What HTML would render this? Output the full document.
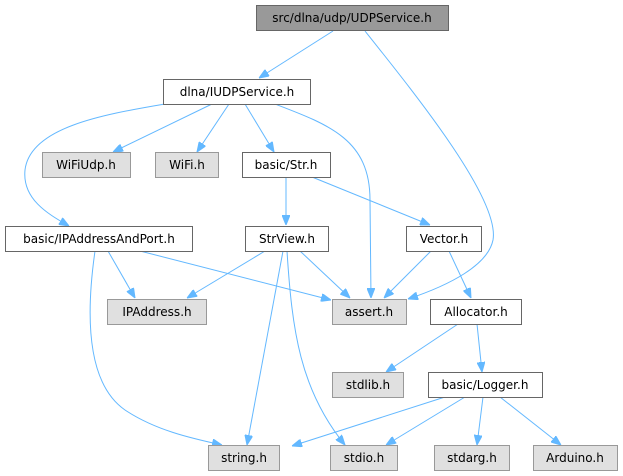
<!DOCTYPE html>
<html><head><meta charset="utf-8"><style>
html,body{margin:0;padding:0;background:#fff;}
svg{display:block;}
text{font-family:"DejaVu Sans","Liberation Sans",sans-serif;font-size:12px;fill:#000;}
</style></head><body>
<svg width="623" height="476" viewBox="0 0 623 476" xmlns="http://www.w3.org/2000/svg">
<defs>
<marker id="a" viewBox="0 0 10 8" refX="10" refY="4" markerWidth="10" markerHeight="8" markerUnits="userSpaceOnUse" orient="auto">
<path d="M0,0 L10,4 L0,8 z" fill="#63b8ff" stroke="#63b8ff"/>
</marker>
</defs>
<g fill="none" stroke="#63b8ff" stroke-width="1" marker-end="url(#a)">
<path d="M333,31 L259,78"/>
<path d="M365,31 C420,100 500,200 493,240 C488,265 450,285 408,299"/>
<path d="M165,104 C100,115 30,128 25,170 C22,200 50,215 69,226"/>
<path d="M212,104 L113,152"/>
<path d="M229,104 L197,152"/>
<path d="M245,104 L274,152"/>
<path d="M275,104 C330,125 370,140 370,200 L371,298"/>
<path d="M286,177 L286,225"/>
<path d="M312,177 L430,225"/>
<path d="M95,251 C88,300 82,380 125,410 C155,430 190,438 222,445"/>
<path d="M108,251 L135,298"/>
<path d="M140,251 L331,300"/>
<path d="M265,251 L187,298"/>
<path d="M283,251 L247,445"/>
<path d="M287,251 C292,330 300,390 345,445"/>
<path d="M300,251 L350,298"/>
<path d="M431,251 L384,298"/>
<path d="M449,251 L471,298"/>
<path d="M458,324 L386,372"/>
<path d="M477,324 L482,372"/>
<path d="M445,397 L292,446"/>
<path d="M465,397 L386,445"/>
<path d="M483,397 L477,445"/>
<path d="M500,397 L561,445"/>
</g>
<g stroke-width="1">
<rect x="256.5" y="5.5" width="192" height="25" fill="#999" stroke="#666"/>
<rect x="163.5" y="79.5" width="147" height="25" fill="#fff" stroke="#666"/>
<rect x="42.5" y="152.5" width="88" height="25" fill="#e0e0e0" stroke="#999"/>
<rect x="155.5" y="152.5" width="63" height="25" fill="#e0e0e0" stroke="#999"/>
<rect x="242.5" y="152.5" width="88" height="25" fill="#fff" stroke="#666"/>
<rect x="5.5" y="226.5" width="187" height="25" fill="#fff" stroke="#666"/>
<rect x="245.5" y="226.5" width="83" height="25" fill="#fff" stroke="#666"/>
<rect x="406.5" y="226.5" width="75" height="25" fill="#fff" stroke="#666"/>
<rect x="107.5" y="299.5" width="99" height="25" fill="#e0e0e0" stroke="#999"/>
<rect x="332.5" y="299.5" width="74" height="25" fill="#e0e0e0" stroke="#999"/>
<rect x="430.5" y="299.5" width="91" height="25" fill="#fff" stroke="#666"/>
<rect x="332.5" y="372.5" width="71" height="25" fill="#e0e0e0" stroke="#999"/>
<rect x="428.5" y="372.5" width="114" height="25" fill="#fff" stroke="#666"/>
<rect x="208.5" y="445.5" width="71" height="25" fill="#e0e0e0" stroke="#999"/>
<rect x="330.5" y="445.5" width="67" height="25" fill="#e0e0e0" stroke="#999"/>
<rect x="434.5" y="445.5" width="75" height="25" fill="#e0e0e0" stroke="#999"/>
<rect x="533.5" y="445.5" width="84" height="25" fill="#e0e0e0" stroke="#999"/>
</g>
<g text-anchor="middle">
<text x="352" y="22">src/dlna/udp/UDPService.h</text>
<text x="237" y="96">dlna/IUDPService.h</text>
<text x="86" y="169">WiFiUdp.h</text>
<text x="187" y="169">WiFi.h</text>
<text x="286" y="169">basic/Str.h</text>
<text x="99" y="243">basic/IPAddressAndPort.h</text>
<text x="287" y="243">StrView.h</text>
<text x="444" y="243">Vector.h</text>
<text x="157" y="316">IPAddress.h</text>
<text x="369" y="316">assert.h</text>
<text x="476" y="316">Allocator.h</text>
<text x="368" y="389">stdlib.h</text>
<text x="485" y="389">basic/Logger.h</text>
<text x="244" y="462">string.h</text>
<text x="364" y="462">stdio.h</text>
<text x="472" y="462">stdarg.h</text>
<text x="575" y="462">Arduino.h</text>
</g>
</svg>
</body></html>
